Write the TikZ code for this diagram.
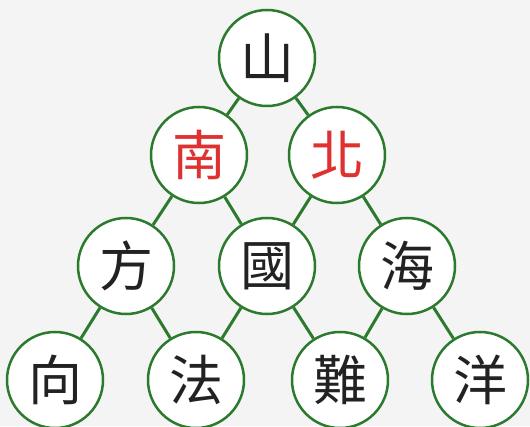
\documentclass[tikz,border=0pt]{standalone}
\usepackage{fontspec}
\newfontfamily\cjk{Noto Sans CJK TC}
\definecolor{bggray}{HTML}{F4F4F4}
\definecolor{ringgreen}{HTML}{2C7A2E}
\definecolor{charred}{HTML}{E03131}
\definecolor{charblack}{HTML}{222222}
\tikzset{
  ch/.style={circle, draw=ringgreen, line width=2.5pt, fill=white, minimum size=96pt, inner sep=0pt,
    font=\cjk\fontsize{54}{54}\selectfont, text=charblack},
  redch/.style={ch, text=charred},
  link/.style={draw=ringgreen, line width=3pt}
}
\begin{document}
\begin{tikzpicture}[x=1pt,y=1pt]
\useasboundingbox (0,0) rectangle (530,426);
\fill[bggray] (0,0) rectangle (530,426);
\node[ch] (shan) at (267,368) {山};
\node[redch] (nan) at (199,271) {南};
\node[redch] (bei) at (337,271) {北};
\node[ch] (fang) at (126,160) {方};
\node[ch] (guo) at (267,160) {國};
\node[ch] (hai) at (407,160) {海};
\node[ch] (xiang) at (55,46) {向};
\node[ch] (fa) at (196,46) {法};
\node[ch] (nanx) at (340,46) {難};
\node[ch] (yang) at (480,46) {洋};
\draw[link] (shan) -- (nan);
\draw[link] (shan) -- (bei);
\draw[link] (nan) -- (fang);
\draw[link] (nan) -- (guo);
\draw[link] (bei) -- (guo);
\draw[link] (bei) -- (hai);
\draw[link] (fang) -- (xiang);
\draw[link] (fang) -- (fa);
\draw[link] (guo) -- (fa);
\draw[link] (guo) -- (nanx);
\draw[link] (hai) -- (nanx);
\draw[link] (hai) -- (yang);
\end{tikzpicture}
\end{document}
